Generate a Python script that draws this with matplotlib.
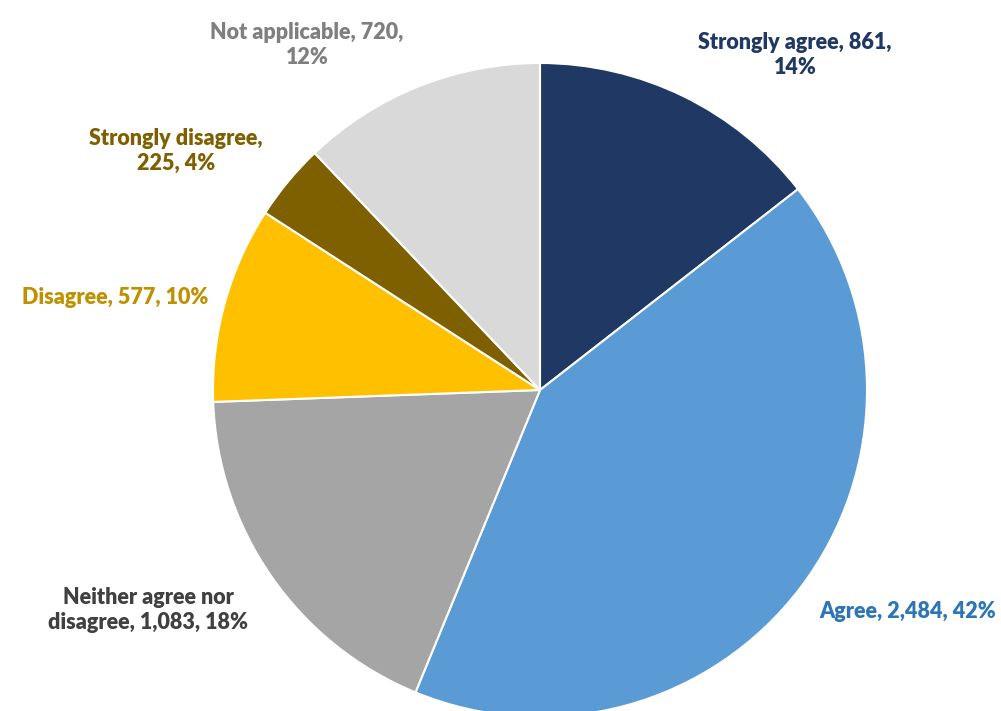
import matplotlib
matplotlib.use("Agg")
import matplotlib.pyplot as plt

# Survey responses
categories = ["Strongly agree", "Agree", "Neither agree nor disagree",
              "Disagree", "Strongly disagree", "Not applicable"]
counts = [861, 2484, 1083, 577, 225, 720]
label_texts = ["Strongly agree, 861,\n14%",
               "Agree, 2,484, 42%",
               "Neither agree nor\ndisagree, 1,083, 18%",
               "Disagree, 577, 10%",
               "Strongly disagree,\n225, 4%",
               "Not applicable, 720,\n12%"]

wedge_colors = ["#203864", "#5B9BD5", "#A5A5A5", "#FFC000", "#7F6000", "#D9D9D9"]
text_colors = ["#203864", "#2E75B6", "#404040", "#BF9000", "#7F6000", "#7F7F7F"]
# label centres in pixel coordinates (x, y from top)
label_pos = [(795, 55), (908, 612), (148, 610), (115, 298), (176, 151), (307, 45)]

W, H = 1001, 711
fig = plt.figure(figsize=(W / 100, H / 100), dpi=100)
ax = fig.add_axes([0, 0, 1, 1])

cx, cy, r = 540, H - 390, 327
ax.pie(counts, colors=wedge_colors, startangle=90, counterclock=False,
       center=(cx, cy), radius=r, frame=True,
       wedgeprops=dict(edgecolor="white", linewidth=1.5))
ax.set_xlim(0, W)
ax.set_ylim(0, H)
ax.set_aspect("equal")
ax.axis("off")

for txt, col, (x, y) in zip(label_texts, text_colors, label_pos):
    ax.text(x, H - y, txt, color=col, fontsize=15.5, fontweight="heavy",
            family="Lato", ha="center", va="center", linespacing=1.2)

fig.savefig("out.png", dpi=100)
